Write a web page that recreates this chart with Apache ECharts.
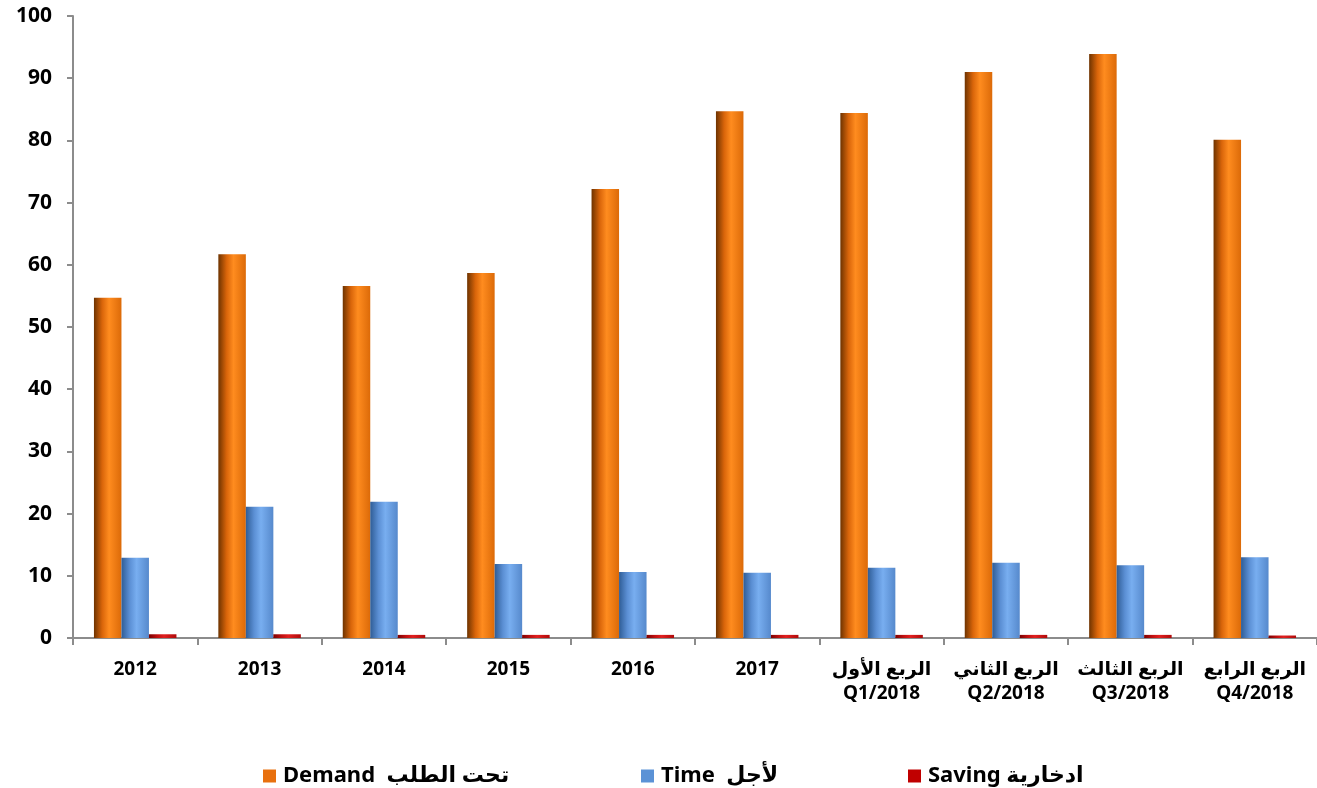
<!DOCTYPE html>
<html>
<head>
<meta charset="utf-8">
<script src="https://cdn.jsdelivr.net/npm/echarts@6/dist/echarts.min.js"></script>
<style>
html,body{margin:0;padding:0;background:#fff;}
#c{width:1317px;height:788px;}
</style>
</head>
<body>
<div id="c"></div>
<script>
const categories = ["2012","2013","2014","2015","2016","2017",
  "الربع الأول\nQ1/2018","الربع الثاني\nQ2/2018","الربع الثالث\nQ3/2018","الربع الرابع\nQ4/2018"];
const seriesNames = ["Demand  تحت الطلب", "Time  لأجل", "Saving ادخارية"];
const demand = [54.7, 61.7, 56.6, 58.7, 72.2, 84.7, 84.4, 91.0, 93.9, 80.1];
const time   = [12.9, 21.1, 21.9, 11.9, 10.6, 10.5, 11.3, 12.1, 11.7, 13.0];
const saving = [0.6, 0.6, 0.5, 0.5, 0.5, 0.5, 0.5, 0.5, 0.5, 0.4];
const yTicks = [0,10,20,30,40,50,60,70,80,90,100];

const FONT = "'Noto Sans', 'DejaVu Sans', sans-serif";
function grad(c0, c1, c2, c3) {
  return new echarts.graphic.LinearGradient(0, 0, 1, 0, [
    {offset: 0, color: c0}, {offset: 0.3, color: c1},
    {offset: 0.55, color: c2}, {offset: 1, color: c3}
  ]);
}
const colors = {
  demand: grad('#6e3300', '#d9650a', '#ff8c1f', '#dc6a08'),
  time: grad('#2f5d96', '#5b8fd4', '#78aef0', '#5689cc'),
  saving: grad('#7a0000', '#c01010', '#e02020', '#b00a0a')
};
const legendColors = ['#e8700e', '#5b92d6', '#c00000'];

const chart = echarts.init(document.getElementById('c'));
const legendCommon = {
  top: 760, itemWidth: 13, itemHeight: 13, itemGap: 6, icon: 'rect',
  textStyle: {fontFamily: FONT, fontWeight: 'bold', fontSize: 22, color: '#000', padding: [0,0,0,2]},
  selectedMode: false
};
function legendItem(i) {
  return [{name: seriesNames[i], itemStyle: {color: legendColors[i]}}];
}
chart.setOption({
  animation: false,
  grid: {left: 73, right: 0, top: 16, bottom: 150, containLabel: false},
  legend: [
    Object.assign({}, legendCommon, {left: 258, data: legendItem(0)}),
    Object.assign({}, legendCommon, {left: 636, data: legendItem(1)}),
    Object.assign({}, legendCommon, {left: 903, data: legendItem(2)})
  ],
  xAxis: {
    type: 'category',
    data: categories,
    axisLine: {lineStyle: {color: '#8c8c8c', width: 2}},
    axisTick: {show: true, length: 7, lineStyle: {color: '#8c8c8c', width: 2}},
    axisLabel: {fontFamily: FONT, fontWeight: 'bold', fontSize: 19, color: '#000',
      margin: 20, lineHeight: 24, interval: 0}
  },
  yAxis: {
    type: 'value', min: 0, max: 100, interval: 10,
    axisLine: {show: true, lineStyle: {color: '#8c8c8c', width: 2}},
    axisTick: {show: true, length: 6, lineStyle: {color: '#8c8c8c', width: 2}},
    splitLine: {show: false},
    axisLabel: {fontFamily: FONT, fontWeight: 'bold', fontSize: 21, color: '#000', margin: 21,
      formatter: v => yTicks.includes(v) ? String(v) : ''}
  },
  series: [
    {name: seriesNames[0], type: 'bar', data: demand, barWidth: 27.5, barGap: '0%',
      itemStyle: {color: colors.demand}},
    {name: seriesNames[1], type: 'bar', data: time, barWidth: 27.5, barGap: '0%',
      itemStyle: {color: colors.time}},
    {name: seriesNames[2], type: 'bar', data: saving, barWidth: 27.5, barGap: '0%',
      itemStyle: {color: colors.saving}}
  ]
});
</script>
</body>
</html>
